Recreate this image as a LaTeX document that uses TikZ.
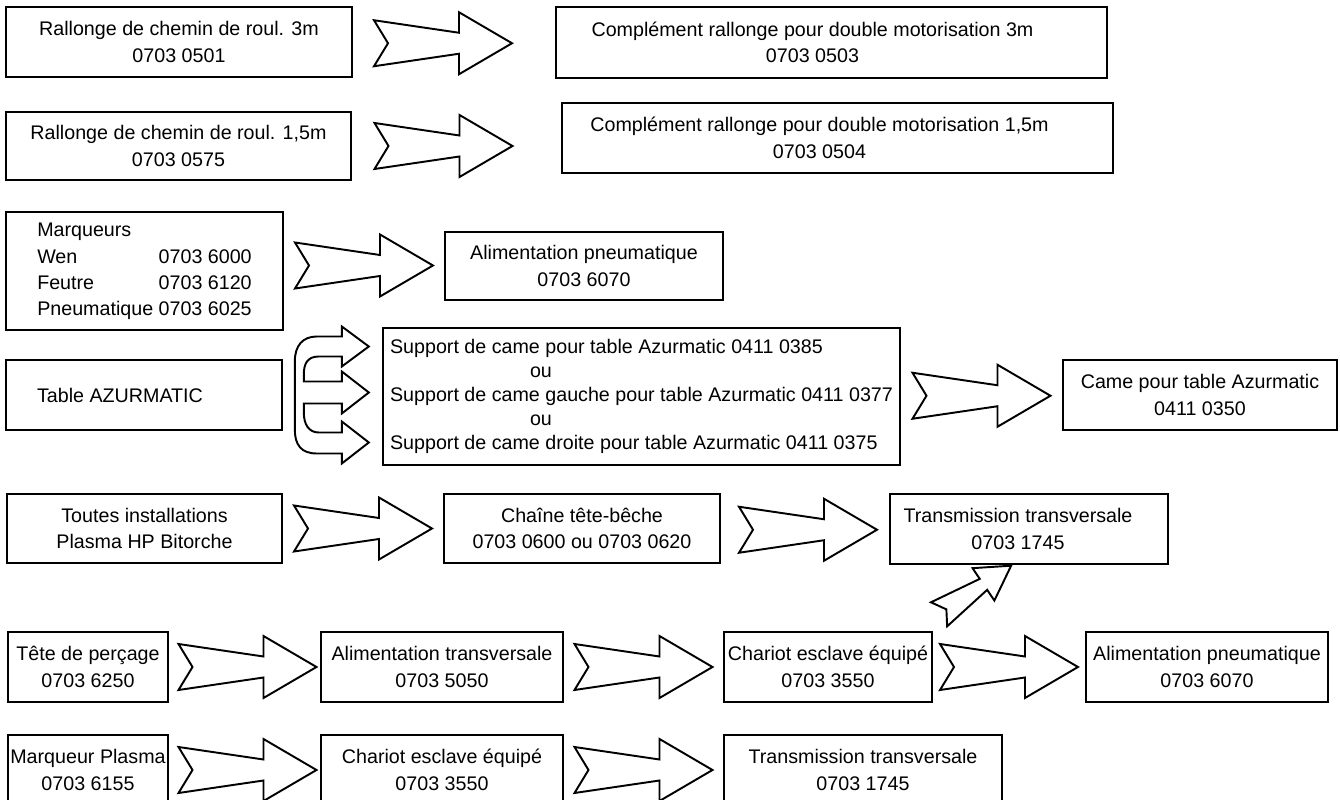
\documentclass[tikz,border=0pt]{standalone}
\usepackage{fontspec}
\setmainfont{Liberation Sans}
\usepackage{tikz}
\usetikzlibrary{calc}

\tikzset{
  boite/.style={draw, line width=1.4pt, inner sep=0pt, align=center},
  contour/.style={line width=1.1pt, fill=white, line join=miter},
  fleche/.pic={
    \draw[contour] (-69,23) -- (16,10.5) -- (16,31) -- (69,0) -- (16,-31) -- (16,-10.5) -- (-69,-23) -- (-55,0) -- cycle;
  }
}

\begin{document}
\begin{tikzpicture}[x=0.02cm, y=-0.02cm, font=\fontsize{11.2}{15}\selectfont]
            \useasboundingbox (0,0) rectangle (1340,800);
            \clip (0,0) rectangle (1340,800);
            \node[boite, minimum width=6.92cm, minimum height=1.4cm] (rallonge_3m) at (179,42) {Rallonge de chemin de roul. 3m\\0703 0501};
            \node[boite, minimum width=11.02cm, minimum height=1.42cm] (complement_3m) at (831.5,42.5) {Complément rallonge pour double motorisation 3m\hspace*{0.76cm}\\0703 0503\hspace*{0.76cm}};
            \node[boite, minimum width=6.9cm, minimum height=1.36cm] (rallonge_15m) at (178.5,146) {Rallonge de chemin de roul. 1,5m\\0703 0575};
            \node[boite, minimum width=11.02cm, minimum height=1.4cm] (complement_15m) at (837.5,138) {Complément rallonge pour double motorisation 1,5m\hspace*{0.72cm}\\0703 0504\hspace*{0.72cm}};
            \node[boite, minimum width=5.54cm, minimum height=2.36cm] (marqueurs) at (144.5,271) {\begin{tabular}{@{}l@{ }l@{}}Marqueurs & \\ Wen & 0703 6000\\ Feutre & 0703 6120\\ Pneumatique & 0703 6025\end{tabular}};
            \node[boite, minimum width=5.56cm, minimum height=1.36cm] (alim_pneu_1) at (584,266) {Alimentation pneumatique\\0703 6070};
            \node[boite, minimum width=5.52cm, minimum height=1.4cm] (table_azur) at (144,395) {Table AZURMATIC\hspace*{0.96cm}};
            \node[boite, minimum width=10.34cm, minimum height=2.74cm, align=left, font=\fontsize{11.2}{13.6}\selectfont] (supports) at (641.5,396.5) {Support de came pour table Azurmatic 0411 0385\\\hspace*{2.8cm}ou\\Support de came gauche pour table Azurmatic 0411 0377\\\hspace*{2.8cm}ou\\Support de came droite pour table Azurmatic 0411 0375};
            \node[boite, minimum width=5.48cm, minimum height=1.4cm] (came) at (1200,395) {Came pour table Azurmatic\\0411 0350};
            \node[boite, minimum width=5.5cm, minimum height=1.38cm] (toutes_inst) at (144.5,528.5) {Toutes installations\\Plasma HP Bitorche};
            \node[boite, minimum width=5.52cm, minimum height=1.38cm] (chaine) at (582,528.5) {Chaîne tête-bêche\\0703 0600 ou 0703 0620};
            \node[boite, minimum width=5.56cm, minimum height=1.4cm] (transmission_1) at (1029,529) {Transmission transversale\hspace*{0.44cm}\\0703 1745\hspace*{0.44cm}};
            \node[boite, minimum width=3.2cm, minimum height=1.4cm] (tete_percage) at (88,667) {Tête de perçage\\0703 6250};
            \node[boite, minimum width=4.84cm, minimum height=1.4cm] (alim_trans) at (442,667) {Alimentation transversale\\0703 5050};
            \node[boite, minimum width=4.16cm, minimum height=1.4cm] (chariot_1) at (828,667) {Chariot esclave équipé\\0703 3550};
            \node[boite, minimum width=4.84cm, minimum height=1.4cm] (alim_pneu_2) at (1207,667) {Alimentation pneumatique\\0703 6070};
            \node[boite, minimum width=3.2cm, minimum height=1.4cm] (marqueur_plasma) at (88,770) {Marqueur Plasma\\0703 6155};
            \node[boite, minimum width=4.84cm, minimum height=1.4cm] (chariot_2) at (442,770) {Chariot esclave équipé\\0703 3550};
            \node[boite, minimum width=5.56cm, minimum height=1.4cm] (transmission_2) at (863,770) {Transmission transversale\\0703 1745};
            \pic at ($(rallonge_3m.east)!0.5!(complement_3m.west)+(-11,1)$) {fleche};
            \pic at ($(rallonge_15m.east)!0.5!(complement_15m.west)+(-13,4)$) {fleche};
            \pic at ($(marqueurs.east)!0.5!(alim_pneu_1.west)+(0,-3)$) {fleche};
            \pic at ($(supports.east)!0.5!(came.west)$) {fleche};
            \pic at ($(toutes_inst.east)!0.5!(chaine.west)$) {fleche};
            \pic at ($(chaine.east)!0.5!(transmission_1.west)+(3,1)$) {fleche};
            \pic at ($(tete_percage.east)!0.5!(alim_trans.west)+(3,0)$) {fleche};
            \pic at ($(alim_trans.east)!0.5!(chariot_1.west)$) {fleche};
            \pic at ($(chariot_1.east)!0.5!(alim_pneu_2.west)$) {fleche};
            \pic[rotate=34, scale=0.63] at ($(chariot_1.north east)!0.5!(transmission_1.south)+(-6,-8)$) {fleche};
            \pic at ($(marqueur_plasma.east)!0.5!(chariot_2.west)+(3,0)$) {fleche};
            \pic at ($(chariot_2.east)!0.5!(transmission_2.west)$) {fleche};
            \begin{scope}[shift={(supports.west)}]
                \draw[contour] (-40,-60) -- (-40,-70) -- (-13,-50) -- (-40,-30) -- (-40,-40) -- (-63,-40) .. controls (-75,-40) and (-78,-32) .. (-78,-22) -- (-78,-15) -- (-40,-15) -- (-40,-25) -- (-13,-4) -- (-40,17) -- (-40,7) -- (-78,7) -- (-78,16) .. controls (-78,28) and (-73,36) .. (-63,36) -- (-40,36) -- (-40,25) -- (-13,46) -- (-40,67) -- (-40,57) -- (-65,57) .. controls (-81,57) and (-87,48) .. (-87,33) -- (-87,-35) .. controls (-87,-51) and (-79,-60) .. (-65,-60) -- cycle;
            \end{scope}
\end{tikzpicture}
\end{document}
